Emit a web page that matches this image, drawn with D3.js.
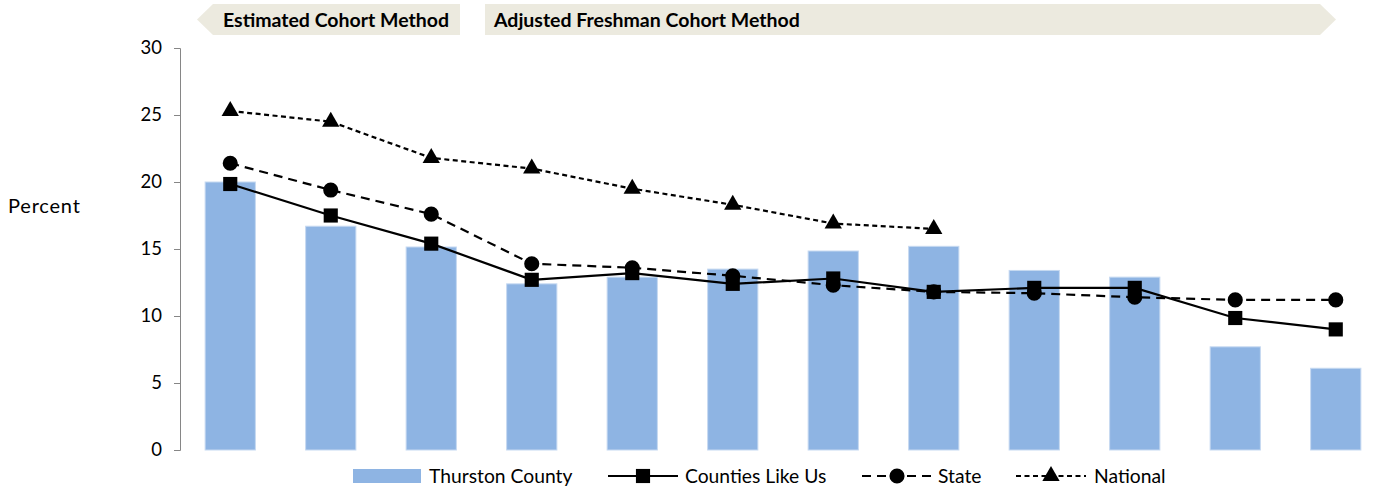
<!DOCTYPE html>
<html lang="en">
<head>
    <meta charset="UTF-8">
    <title>Thurston County chart</title>
    <script src="https://cdnjs.cloudflare.com/ajax/libs/d3/7.8.5/d3.min.js"></script>
    <style>
        body { margin: 0; background: #fff; }
        svg { display: block; font-family: Lato, "Open Sans", sans-serif; }
    </style>
</head>
<body>
    <svg width="1396" height="495"></svg>

    <script>
        // data
        const categories = ["1", "2", "3", "4", "5", "6", "7", "8", "9", "10", "11", "12"];
        const thurston = [20.0, 16.7, 15.15, 12.4, 12.9, 13.5, 14.85, 15.2, 13.4, 12.9, 7.7, 6.1];
        const countiesLikeUs = [19.85, 17.5, 15.4, 12.7, 13.2, 12.4, 12.8, 11.8, 12.1, 12.1, 9.85, 9.0];
        const state = [21.4, 19.4, 17.6, 13.9, 13.6, 13.0, 12.3, 11.8, 11.7, 11.4, 11.2, 11.2];
        const national = [25.3, 24.5, 21.8, 21.0, 19.5, 18.3, 16.9, 16.5, null, null, null, null];
        const yTicks = [0, 5, 10, 15, 20, 25, 30];
        const methodLabels = ["Estimated Cohort Method", "Adjusted Freshman Cohort Method"];

        const svg = d3.select("svg");
        const margin = { top: 48, left: 180, right: 10, bottom: 45 };

        const x = d3.scaleBand()
            .domain(categories)
            .range([margin.left, 1386])
            .paddingInner(0.5)
            .paddingOuter(0.25);

        const y = d3.scaleLinear()
            .domain([0, 30])
            .range([450, 48]);

        // header banners
        const bannerTop = 4, bannerBot = 35, mid = (bannerTop + bannerBot) / 2;
        const banner = svg.append("g");
        banner.append("path")
            .attr("d", `M197,${mid} L213,${bannerTop} L460,${bannerTop} L460,${bannerBot} L213,${bannerBot} Z`)
            .attr("fill", "#ECEADF");
        banner.append("path")
            .attr("d", `M485,${bannerTop} L1320,${bannerTop} L1336,${mid} L1320,${bannerBot} L485,${bannerBot} Z`)
            .attr("fill", "#ECEADF");
        banner.append("text")
            .attr("x", 223).attr("y", 27)
            .attr("font-size", 19.5).attr("font-weight", "bold")
            .text(methodLabels[0]);
        banner.append("text")
            .attr("x", 494).attr("y", 27)
            .attr("font-size", 19.5).attr("font-weight", "bold")
            .text(methodLabels[1]);

        // y axis
        const yAxis = d3.axisLeft(y).tickValues(yTicks).tickSize(6).tickPadding(12);
        const ya = svg.append("g")
            .attr("transform", `translate(${margin.left},0)`)
            .call(yAxis);
        ya.select(".domain").attr("stroke", "#868686");
        ya.selectAll(".tick line").attr("stroke", "#868686");
        ya.selectAll(".tick text").attr("font-size", 18.5).attr("fill", "#000")
            .attr("font-family", "Lato, sans-serif");

        svg.append("text")
            .attr("x", 8).attr("y", 213)
            .attr("font-size", 20)
            .attr("letter-spacing", 0.8)
            .text("Percent");

        // bars
        svg.append("g").selectAll("rect")
            .data(thurston)
            .join("rect")
            .attr("x", (d, i) => x(categories[i]))
            .attr("y", d => y(d))
            .attr("width", x.bandwidth())
            .attr("height", d => y(0) - y(d))
            .attr("fill", "#8EB4E3")
            .attr("stroke", "#C6D9F1")
            .attr("stroke-width", 1);

        const cx = i => x(categories[i]) + x.bandwidth() / 2;

        const series = [
            { name: "Counties Like Us", values: countiesLikeUs, dash: null, marker: "square" },
            { name: "State", values: state, dash: "9,6", marker: "circle" },
            { name: "National", values: national, dash: "5,3.5", marker: "triangle" }
        ];

        const symbolFor = {
            square: d3.symbol().type(d3.symbolSquare).size(200),
            circle: d3.symbol().type(d3.symbolCircle).size(180),
            triangle: d3.symbol().type(d3.symbolTriangle).size(130)
        };

        const line = d3.line()
            .defined(d => d != null)
            .x((d, i) => cx(i))
            .y(d => y(d));

        // draw lines in reverse so Counties sits on top
        series.slice().reverse().forEach(s => {
            const g = svg.append("g");
            g.append("path")
                .datum(s.values)
                .attr("d", line)
                .attr("fill", "none")
                .attr("stroke", "#000")
                .attr("stroke-width", 2.2)
                .attr("stroke-dasharray", s.dash);
            g.selectAll("path.mk")
                .data(s.values.map((v, i) => ({ v, i })).filter(d => d.v != null))
                .join("path")
                .attr("class", "mk")
                .attr("transform", d => `translate(${cx(d.i)},${y(d.v)})`)
                .attr("d", symbolFor[s.marker])
                .attr("fill", "#000");
        });

        // legend
        const legY = 476;
        const leg = svg.append("g").attr("font-size", 19.3);
        leg.append("rect")
            .attr("x", 353).attr("y", legY - 7).attr("width", 68).attr("height", 14)
            .attr("fill", "#8EB4E3");
        leg.append("text").attr("x", 429).attr("y", legY + 7).text("Thurston County");

        const legItems = [
            { s: series[0], x0: 608, tx: 685 },
            { s: series[1], x0: 862, tx: 938 },
            { s: series[2], x0: 1016, tx: 1094 }
        ];
        legItems.forEach(it => {
            leg.append("line")
                .attr("x1", it.x0).attr("x2", it.x0 + 70)
                .attr("y1", legY).attr("y2", legY)
                .attr("stroke", "#000").attr("stroke-width", 2.2)
                .attr("stroke-dasharray", it.s.dash);
            leg.append("path")
                .attr("transform", `translate(${it.x0 + 35},${legY})`)
                .attr("d", symbolFor[it.s.marker])
                .attr("fill", "#000");
            leg.append("text").attr("x", it.tx).attr("y", legY + 7).text(it.s.name);
        });
    </script>
</body>
</html>
